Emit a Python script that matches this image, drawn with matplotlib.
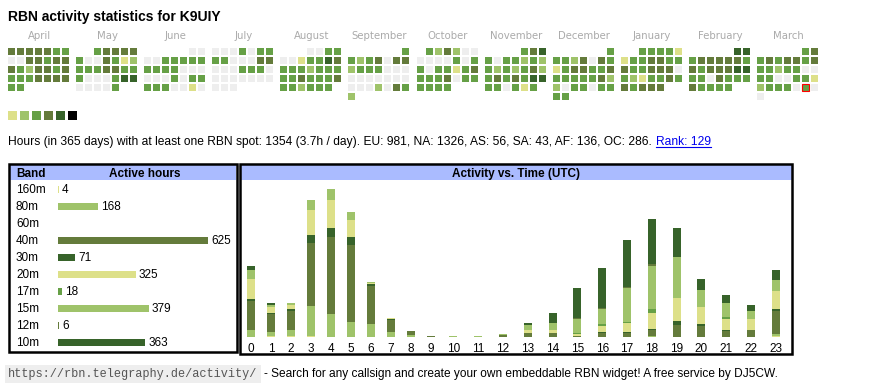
import datetime as dt
import matplotlib.pyplot as plt
from matplotlib.patches import Rectangle

plt.rcParams['font.family'] = ['Liberation Sans', 'DejaVu Sans']

W, H = 870, 390

# calendar: April 2024 .. March 2025, one level per day (0 = no spot)
months = ['April', 'May', 'June', 'July', 'August', 'September',
          'October', 'November', 'December', 'January', 'February', 'March']
month_year = [(2024, 4), (2024, 5), (2024, 6), (2024, 7), (2024, 8), (2024, 9),
              (2024, 10), (2024, 11), (2024, 12), (2025, 1), (2025, 2), (2025, 3)]
day_levels = [
    '4444433' '0044344' '4324434' '3334444' '33',
    '34444' '3004312' '3334433' '3000355' '00003',
    '00' '0033333' '3333000' '0003033' '3330010',
    '0003033' '3300044' '0003330' '0000000' '000',
    '0033' '0013354' '3332333' '3343334' '332333',
    '3' '3234044' '2333000' '0000000' '0002043' '2',
    '324200' '0000303' '3033134' '3334033' '3333',
    '345' '3033232' '3232342' '3434355' '330313',
    '3' '3324043' '1344334' '3333342' '2033033' '33',
    '33331' '1334433' '4334440' '3213343' '43444',
    '55' '3444443' '4344455' '3304333' '43333',
    '34' '3434434' '3323300' '3300331' '2333030' '0',
]
today = dt.date(2025, 3, 29)
level_colors = ['#eeeeee', '#dde089', '#9fc36a', '#66a046', '#647b3b', '#37632a', '#000000']

stats_text = ('Hours (in 365 days) with at least one RBN spot: 1354 (3.7h / day). '
              'EU: 981, NA: 1326, AS: 56, SA: 43, AF: 136, OC: 286.')
rank_text = 'Rank: 129'

# bands
bands = ['160m', '80m', '60m', '40m', '30m', '20m', '17m', '15m', '12m', '10m']
band_totals = [4, 168, 0, 625, 71, 325, 18, 379, 6, 363]
band_colors = ['#dde089', '#9fc36a', '#66a046', '#647b3b', '#37632a',
               '#dde089', '#66a046', '#9fc36a', '#647b3b', '#37632a']

# active hours per UTC hour, per band
hours = list(range(24))
h160 = [0, 1, 1, 1, 0, 0, 0, 0, 0, 0, 0, 0, 0, 0, 0, 0, 0, 0, 0, 0, 0, 0, 0, 1]
h80 = [10, 6, 10, 45, 34, 23, 20, 7, 3, 0, 1, 1, 0, 0, 0, 0, 0, 0, 1, 0, 0, 0, 0, 4]
h60 = [0] * 24
h40 = [44, 27, 28, 93, 114, 114, 56, 18, 6, 1, 0, 0, 3, 6, 6, 2, 6, 6, 9, 18, 16, 9, 10, 33]
h30 = [3, 1, 3, 13, 14, 12, 3, 1, 0, 0, 0, 0, 0, 0, 0, 0, 2, 2, 2, 6, 3, 2, 0, 3]
h20 = [29, 10, 6, 36, 41, 24, 1, 2, 0, 0, 0, 0, 0, 4, 4, 3, 9, 13, 24, 34, 25, 16, 16, 27]
h17 = [0, 0, 0, 0, 0, 0, 0, 0, 0, 0, 0, 0, 0, 1, 1, 1, 3, 2, 5, 0, 1, 2, 0, 0]
h15 = [13, 3, 3, 16, 16, 13, 1, 0, 0, 0, 0, 0, 1, 7, 10, 20, 22, 50, 65, 61, 25, 22, 13, 16]
h12 = [0, 0, 0, 0, 0, 0, 0, 0, 0, 0, 0, 0, 0, 0, 0, 2, 1, 1, 2, 0, 0, 0, 0, 0]
h10 = [7, 3, 0, 0, 0, 0, 0, 0, 0, 0, 0, 0, 0, 3, 15, 44, 59, 70, 67, 43, 16, 12, 9, 16]
hourly = [h160, h80, h60, h40, h30, h20, h17, h15, h12, h10]

footer_url = 'https://rbn.telegraphy.de/activity/'
footer_text = '- Search for any callsign and create your own embeddable RBN widget! A free service by DJ5CW.'

FS = 8.5
BLUE = '#aabbff'

fig = plt.figure(figsize=(W / 100, H / 100), dpi=100)
ov = fig.add_axes([0, 0, 1, 1])
ov.set_xlim(0, W)
ov.set_ylim(H, 0)
ov.axis('off')


def px_axes(x0, y0, x1, y1):
    return fig.add_axes([x0 / W, 1 - y1 / H, (x1 - x0) / W, (y1 - y0) / H])


ov.text(8, 21.5, 'RBN activity statistics for ' + 'K9UIY', fontsize=10, fontweight='bold',
        va='baseline')

# calendar heatmap
for m, (name, (yr, mo), lv) in enumerate(zip(months, month_year, day_levels)):
    x0 = 8 + m * 68.1
    off = dt.date(yr, mo, 1).weekday()
    for d, ch in enumerate(lv):
        row, col = divmod(off + d, 7)
        red = dt.date(yr, mo, d + 1) == today
        ov.add_patch(Rectangle((x0 + 9 * col, 48 + 9 * row), 7, 7,
                               facecolor=level_colors[int(ch)],
                               edgecolor='red' if red else 'none',
                               lw=0.8 if red else 0))
    ov.text(x0 + 31, 39, name, ha='center', va='baseline', color='#aaaaaa',
            fontsize=7.3, family='DejaVu Sans')

for k in range(1, 7):
    ov.add_patch(Rectangle((8 + 12 * (k - 1), 111), 9, 9, facecolor=level_colors[k], lw=0))

# stats line with link
fig.canvas.draw()
r = fig.canvas.get_renderer()
st = ov.text(8, 145, stats_text, fontsize=8.63, va='baseline')
ext = st.get_window_extent(r)
rk = ov.text(ext.x1 + 4, 145, rank_text, fontsize=8.63, va='baseline', color='#0000ee')
ext2 = rk.get_window_extent(r)
ov.plot([ext2.x0, ext2.x1], [146.5, 146.5], color='#0000ee', lw=0.8)

# band table
ov.add_patch(Rectangle((10, 165), 226, 15, facecolor=BLUE, lw=0))
ov.add_patch(Rectangle((9, 164), 228, 188, fill=False, lw=1.8, edgecolor='black'))
ov.text(16, 177, 'Band', fontsize=FS, fontweight='bold', va='baseline')
ov.text(145, 177, 'Active hours', fontsize=FS, fontweight='bold', va='baseline', ha='center')

bx = px_axes(58, 181, 228, 351)
bx.barh(range(len(bands)), band_totals, height=0.41, color=band_colors)
bx.set_xlim(0, 170 / 0.24)
bx.set_ylim(len(bands) - 0.5, -0.5)
bx.axis('off')
for i, (b, t) in enumerate(zip(bands, band_totals)):
    bx.annotate(b, (0, i), xytext=(-42, -3.5), textcoords='offset pixels',
                va='baseline', fontsize=FS, annotation_clip=False)
    if t:
        bx.annotate(str(t), (t, i), xytext=(3, -3.5), textcoords='offset pixels',
                    va='baseline', fontsize=FS, annotation_clip=False)

# activity vs time
ov.add_patch(Rectangle((241, 165), 551, 15, facecolor=BLUE, lw=0))
ov.add_patch(Rectangle((240, 164), 552, 190, fill=False, lw=1.8, edgecolor='black'))
ov.text(516, 177, 'Activity vs. Time (UTC)', fontsize=FS, fontweight='bold',
        va='baseline', ha='center')

col_w = [20 if len(str(h)) == 1 else 24.8 for h in hours]
centers = []
acc = 0
for w in col_w:
    centers.append(acc + w / 2)
    acc += w

ax = px_axes(241, 180, 241 + acc, 337)
bottom = [0] * 24
for vals, c in zip(hourly, band_colors):
    ax.bar(centers, vals, width=8, bottom=bottom, color=c, lw=0)
    bottom = [b + v for b, v in zip(bottom, vals)]
ax.set_xlim(0, acc)
ax.set_ylim(0, 233)
ax.set_xticks(centers)
ax.set_xticklabels([str(h) for h in hours], fontsize=FS)
ax.tick_params(length=0, pad=4)
ax.set_yticks([])
for s in ax.spines.values():
    s.set_visible(False)
ax.patch.set_alpha(0)

# footer
url = ov.text(8, 377, footer_url, family='Liberation Mono', fontsize=8.6, color='#555555',
              va='baseline', bbox=dict(facecolor='#eeeeee', edgecolor='none', pad=2.5))
fig.canvas.draw()
ext3 = url.get_bbox_patch().get_window_extent(r)
ov.text(ext3.x1 + 3, 377, footer_text, fontsize=8.6, va='baseline')

fig.savefig('out.png', dpi=100)
